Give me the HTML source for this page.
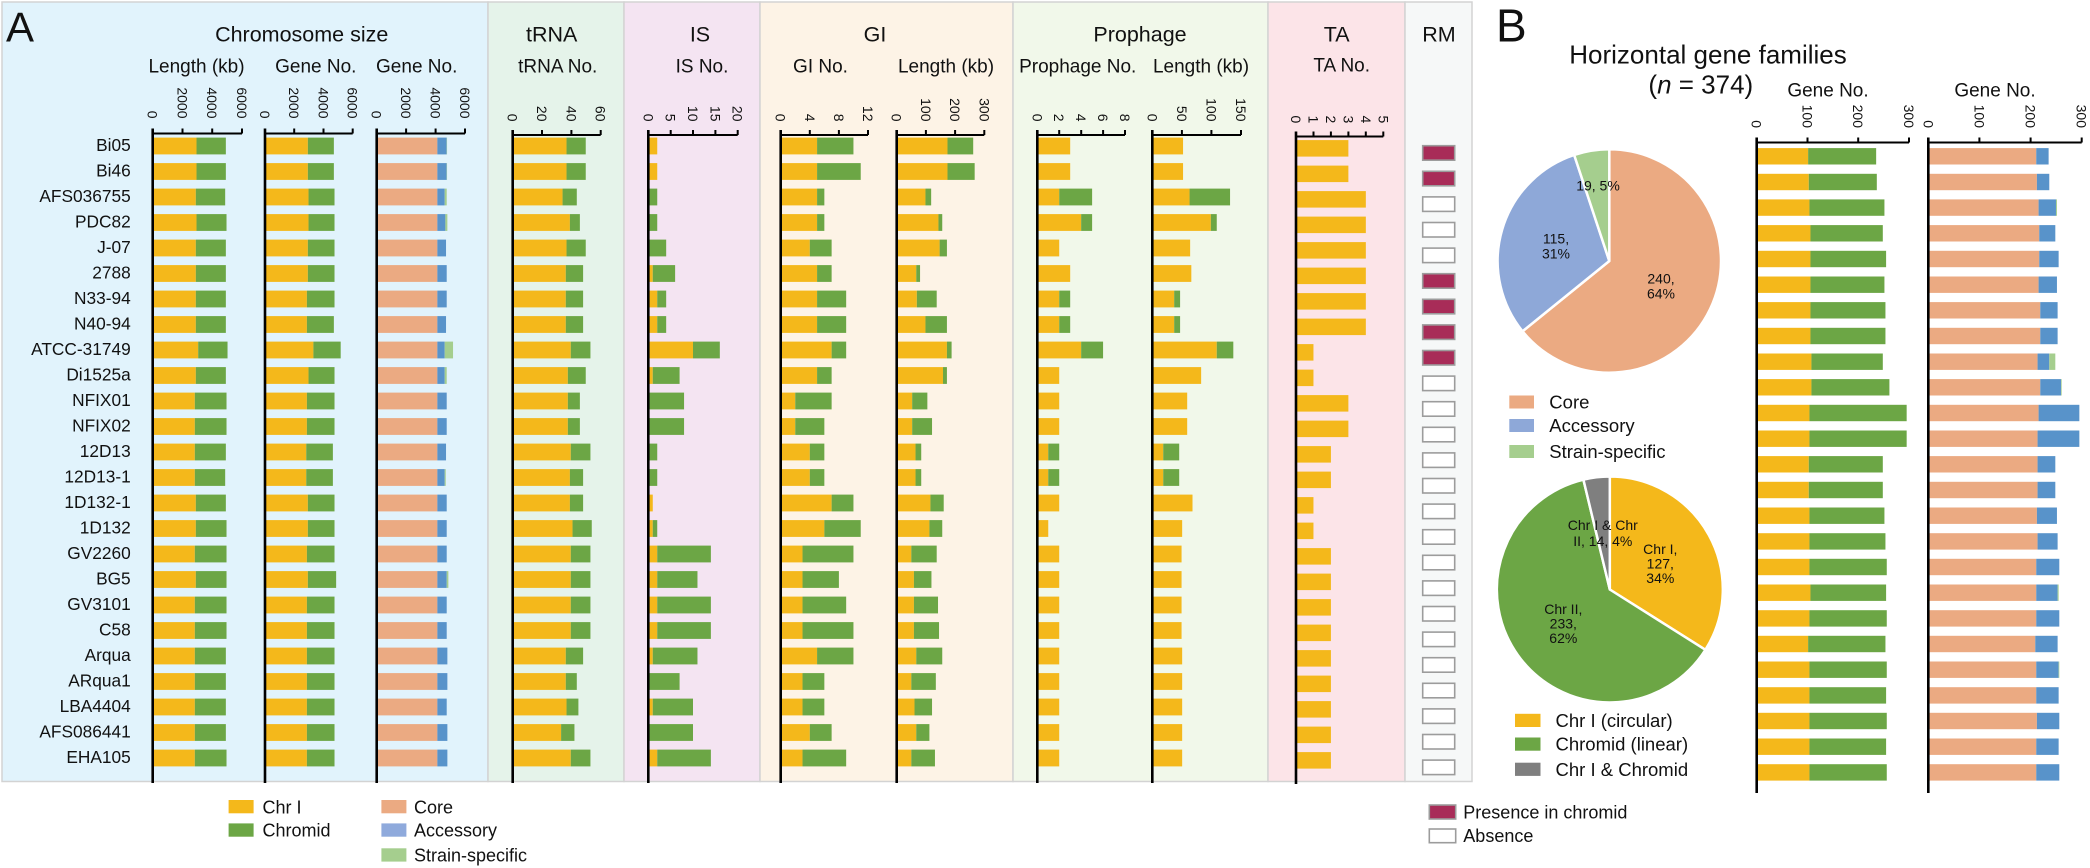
<!DOCTYPE html>
<html><head><meta charset="utf-8">
<style>
html,body{margin:0;padding:0;background:#fff;}
svg{display:block;font-family:"Liberation Sans",Arial,sans-serif;}
.y{fill:#F4B81B}.g{fill:#6CA645}.c{fill:#EBAA82}.a{fill:#5893CA}.s{fill:#A5CE8E}
.t{font-size:14px;fill:#111}
.lab{font-size:17.3px;fill:#111}
</style></head><body>
<svg width="2090" height="868" viewBox="0 0 2090 868" xmlns="http://www.w3.org/2000/svg">
<rect width="2090" height="868" fill="#fff"/>
<!-- panel backgrounds -->
<g stroke="#D3D3D3" stroke-width="1.5">
<rect x="2" y="2" width="486" height="779.5" fill="#E1F3FC"/>
<rect x="488" y="2" width="136" height="779.5" fill="#E5F3EA"/>
<rect x="624" y="2" width="136" height="779.5" fill="#F4E4F2"/>
<rect x="760" y="2" width="253" height="779.5" fill="#FDF3E6"/>
<rect x="1013" y="2" width="255" height="779.5" fill="#F1F8EA"/>
<rect x="1268" y="2" width="137" height="779.5" fill="#FCE4E8"/>
<rect x="1405" y="2" width="67" height="779.5" fill="#F6F8F8"/>
</g>
<!-- panel letters & titles -->
<text x="6" y="41.7" font-size="42" fill="#111">A</text>
<text x="1496" y="41.7" font-size="46" fill="#111">B</text>
<g font-size="21.5" fill="#111" text-anchor="middle">
<text x="301.7" y="41.7">Chromosome size</text>
<text x="551.7" y="41.7">tRNA</text>
<text x="700" y="41.7">IS</text>
<text x="875" y="41.7">GI</text>
<text x="1140" y="41.7">Prophage</text>
<text x="1336.7" y="41.7">TA</text>
<text x="1439" y="41.7">RM</text>
</g>
<g font-size="19" fill="#111" text-anchor="middle">
<text x="196.5" y="72.7">Length (kb)</text>
<text x="315.8" y="72.7">Gene No.</text>
<text x="416.7" y="72.7">Gene No.</text>
<text x="557.7" y="72.7">tRNA No.</text>
<text x="702" y="72.7">IS No.</text>
<text x="820.5" y="72.7">GI No.</text>
<text x="946" y="72.7">Length (kb)</text>
<text x="1077.7" y="72.7">Prophage No.</text>
<text x="1201" y="72.7">Length (kb)</text>
<text x="1341.7" y="71.7">TA No.</text>
<text x="1828" y="96.5">Gene No.</text>
<text x="1995" y="96.5">Gene No.</text>
</g>
<text x="1708" y="63.3" font-size="26" fill="#111" text-anchor="middle">Horizontal gene families</text>
<text x="1700.8" y="93.5" font-size="26" fill="#111" text-anchor="middle">(<tspan font-style="italic">n</tspan> = 374)</text>

<!-- tick labels -->
<g class="t" text-anchor="end" dominant-baseline="central">
<text transform="translate(152.7 118.5) rotate(90)">0</text>
<text transform="translate(182.5 118.5) rotate(90)">2000</text>
<text transform="translate(212.2 118.5) rotate(90)">4000</text>
<text transform="translate(242 118.5) rotate(90)">6000</text>
<text transform="translate(265 118.5) rotate(90)">0</text>
<text transform="translate(294.2 118.5) rotate(90)">2000</text>
<text transform="translate(323.5 118.5) rotate(90)">4000</text>
<text transform="translate(352.7 118.5) rotate(90)">6000</text>
<text transform="translate(376.7 118.5) rotate(90)">0</text>
<text transform="translate(406.1 118.5) rotate(90)">2000</text>
<text transform="translate(435.6 118.5) rotate(90)">4000</text>
<text transform="translate(465 118.5) rotate(90)">6000</text>
<text transform="translate(512.7 121.5) rotate(90)">0</text>
<text transform="translate(542 121.5) rotate(90)">20</text>
<text transform="translate(571.4 121.5) rotate(90)">40</text>
<text transform="translate(600.7 121.5) rotate(90)">60</text>
<text transform="translate(648.3 121.5) rotate(90)">0</text>
<text transform="translate(670.7 121.5) rotate(90)">5</text>
<text transform="translate(693 121.5) rotate(90)">10</text>
<text transform="translate(715.4 121.5) rotate(90)">15</text>
<text transform="translate(737.7 121.5) rotate(90)">20</text>
<text transform="translate(780.7 121.5) rotate(90)">0</text>
<text transform="translate(809.8 121.5) rotate(90)">4</text>
<text transform="translate(838.9 121.5) rotate(90)">8</text>
<text transform="translate(868 121.5) rotate(90)">12</text>
<text transform="translate(896.7 121.5) rotate(90)">0</text>
<text transform="translate(925.9 121.5) rotate(90)">100</text>
<text transform="translate(955.1 121.5) rotate(90)">200</text>
<text transform="translate(984.3 121.5) rotate(90)">300</text>
<text transform="translate(1037.3 121.5) rotate(90)">0</text>
<text transform="translate(1059.2 121.5) rotate(90)">2</text>
<text transform="translate(1081.2 121.5) rotate(90)">4</text>
<text transform="translate(1103.1 121.5) rotate(90)">6</text>
<text transform="translate(1125 121.5) rotate(90)">8</text>
<text transform="translate(1152.3 121.5) rotate(90)">0</text>
<text transform="translate(1181.9 121.5) rotate(90)">50</text>
<text transform="translate(1211.4 121.5) rotate(90)">100</text>
<text transform="translate(1241 121.5) rotate(90)">150</text>
<text transform="translate(1296 123.3) rotate(90)">0</text>
<text transform="translate(1313.5 123.3) rotate(90)">1</text>
<text transform="translate(1330.9 123.3) rotate(90)">2</text>
<text transform="translate(1348.4 123.3) rotate(90)">3</text>
<text transform="translate(1365.8 123.3) rotate(90)">4</text>
<text transform="translate(1383.3 123.3) rotate(90)">5</text>
<text transform="translate(1756.7 128) rotate(90)">0</text>
<text transform="translate(1807.5 128) rotate(90)">100</text>
<text transform="translate(1858.2 128) rotate(90)">200</text>
<text transform="translate(1909 128) rotate(90)">300</text>
<text transform="translate(1928.3 128) rotate(90)">0</text>
<text transform="translate(1979.4 128) rotate(90)">100</text>
<text transform="translate(2030.6 128) rotate(90)">200</text>
<text transform="translate(2081.7 128) rotate(90)">300</text>
</g>

<!-- row labels -->
<g class="lab" text-anchor="end">
<text x="130.7" y="151">Bi05</text>
<text x="130.7" y="176.5">Bi46</text>
<text x="130.7" y="202">AFS036755</text>
<text x="130.7" y="227.5">PDC82</text>
<text x="130.7" y="253">J-07</text>
<text x="130.7" y="278.5">2788</text>
<text x="130.7" y="304">N33-94</text>
<text x="130.7" y="329.5">N40-94</text>
<text x="130.7" y="355">ATCC-31749</text>
<text x="130.7" y="380.5">Di1525a</text>
<text x="130.7" y="406">NFIX01</text>
<text x="130.7" y="431.5">NFIX02</text>
<text x="130.7" y="457">12D13</text>
<text x="130.7" y="482.5">12D13-1</text>
<text x="130.7" y="508">1D132-1</text>
<text x="130.7" y="533.5">1D132</text>
<text x="130.7" y="559">GV2260</text>
<text x="130.7" y="584.5">BG5</text>
<text x="130.7" y="610">GV3101</text>
<text x="130.7" y="635.5">C58</text>
<text x="130.7" y="661">Arqua</text>
<text x="130.7" y="686.5">ARqua1</text>
<text x="130.7" y="712">LBA4404</text>
<text x="130.7" y="737.5">AFS086441</text>
<text x="130.7" y="763">EHA105</text>
</g>

<!-- C1 length -->
<g transform="translate(152.7 0) scale(0.014883 1)">
<rect class="y" y="137.6" width="2944" height="16.8"/><rect class="g" x="2944" y="137.6" width="1971" height="16.8"/>
<rect class="y" y="163.1" width="2944" height="16.8"/><rect class="g" x="2944" y="163.1" width="1971" height="16.8"/>
<rect class="y" y="188.6" width="2899" height="16.8"/><rect class="g" x="2899" y="188.6" width="1971" height="16.8"/>
<rect class="y" y="214.1" width="2944" height="16.8"/><rect class="g" x="2944" y="214.1" width="2016" height="16.8"/>
<rect class="y" y="239.6" width="2899" height="16.8"/><rect class="g" x="2899" y="239.6" width="2016" height="16.8"/>
<rect class="y" y="265.1" width="2899" height="16.8"/><rect class="g" x="2899" y="265.1" width="2016" height="16.8"/>
<rect class="y" y="290.6" width="2899" height="16.8"/><rect class="g" x="2899" y="290.6" width="2016" height="16.8"/>
<rect class="y" y="316.1" width="2899" height="16.8"/><rect class="g" x="2899" y="316.1" width="2016" height="16.8"/>
<rect class="y" y="341.6" width="3058" height="16.8"/><rect class="g" x="3058" y="341.6" width="1970" height="16.8"/>
<rect class="y" y="367.1" width="2899" height="16.8"/><rect class="g" x="2899" y="367.1" width="2016" height="16.8"/>
<rect class="y" y="392.6" width="2831" height="16.8"/><rect class="g" x="2831" y="392.6" width="2129" height="16.8"/>
<rect class="y" y="418.1" width="2831" height="16.8"/><rect class="g" x="2831" y="418.1" width="2129" height="16.8"/>
<rect class="y" y="443.6" width="2831" height="16.8"/><rect class="g" x="2831" y="443.6" width="2084" height="16.8"/>
<rect class="y" y="469.1" width="2831" height="16.8"/><rect class="g" x="2831" y="469.1" width="2039" height="16.8"/>
<rect class="y" y="494.6" width="2899" height="16.8"/><rect class="g" x="2899" y="494.6" width="2016" height="16.8"/>
<rect class="y" y="520.1" width="2899" height="16.8"/><rect class="g" x="2899" y="520.1" width="2061" height="16.8"/>
<rect class="y" y="545.6" width="2831" height="16.8"/><rect class="g" x="2831" y="545.6" width="2129" height="16.8"/>
<rect class="y" y="571.1" width="2899" height="16.8"/><rect class="g" x="2899" y="571.1" width="2061" height="16.8"/>
<rect class="y" y="596.6" width="2831" height="16.8"/><rect class="g" x="2831" y="596.6" width="2129" height="16.8"/>
<rect class="y" y="622.1" width="2831" height="16.8"/><rect class="g" x="2831" y="622.1" width="2129" height="16.8"/>
<rect class="y" y="647.6" width="2831" height="16.8"/><rect class="g" x="2831" y="647.6" width="2084" height="16.8"/>
<rect class="y" y="673.1" width="2831" height="16.8"/><rect class="g" x="2831" y="673.1" width="2084" height="16.8"/>
<rect class="y" y="698.6" width="2831" height="16.8"/><rect class="g" x="2831" y="698.6" width="2084" height="16.8"/>
<rect class="y" y="724.1" width="2831" height="16.8"/><rect class="g" x="2831" y="724.1" width="2084" height="16.8"/>
<rect class="y" y="749.6" width="2831" height="16.8"/><rect class="g" x="2831" y="749.6" width="2129" height="16.8"/>
</g>

<!-- C2 gene no -->
<g transform="translate(265 0) scale(0.014617 1)">
<rect class="y" y="137.6" width="2933" height="16.8"/><rect class="g" x="2933" y="137.6" width="1778" height="16.8"/>
<rect class="y" y="163.1" width="2933" height="16.8"/><rect class="g" x="2933" y="163.1" width="1778" height="16.8"/>
<rect class="y" y="188.6" width="2978" height="16.8"/><rect class="g" x="2978" y="188.6" width="1778" height="16.8"/>
<rect class="y" y="214.1" width="2978" height="16.8"/><rect class="g" x="2978" y="214.1" width="1778" height="16.8"/>
<rect class="y" y="239.6" width="2933" height="16.8"/><rect class="g" x="2933" y="239.6" width="1823" height="16.8"/>
<rect class="y" y="265.1" width="2933" height="16.8"/><rect class="g" x="2933" y="265.1" width="1823" height="16.8"/>
<rect class="y" y="290.6" width="2867" height="16.8"/><rect class="g" x="2867" y="290.6" width="1889" height="16.8"/>
<rect class="y" y="316.1" width="2867" height="16.8"/><rect class="g" x="2867" y="316.1" width="1844" height="16.8"/>
<rect class="y" y="341.6" width="3311" height="16.8"/><rect class="g" x="3311" y="341.6" width="1867" height="16.8"/>
<rect class="y" y="367.1" width="2978" height="16.8"/><rect class="g" x="2978" y="367.1" width="1778" height="16.8"/>
<rect class="y" y="392.6" width="2867" height="16.8"/><rect class="g" x="2867" y="392.6" width="1889" height="16.8"/>
<rect class="y" y="418.1" width="2867" height="16.8"/><rect class="g" x="2867" y="418.1" width="1889" height="16.8"/>
<rect class="y" y="443.6" width="2822" height="16.8"/><rect class="g" x="2822" y="443.6" width="1822" height="16.8"/>
<rect class="y" y="469.1" width="2822" height="16.8"/><rect class="g" x="2822" y="469.1" width="1822" height="16.8"/>
<rect class="y" y="494.6" width="2933" height="16.8"/><rect class="g" x="2933" y="494.6" width="1823" height="16.8"/>
<rect class="y" y="520.1" width="2933" height="16.8"/><rect class="g" x="2933" y="520.1" width="1823" height="16.8"/>
<rect class="y" y="545.6" width="2867" height="16.8"/><rect class="g" x="2867" y="545.6" width="1889" height="16.8"/>
<rect class="y" y="571.1" width="2933" height="16.8"/><rect class="g" x="2933" y="571.1" width="1934" height="16.8"/>
<rect class="y" y="596.6" width="2867" height="16.8"/><rect class="g" x="2867" y="596.6" width="1889" height="16.8"/>
<rect class="y" y="622.1" width="2867" height="16.8"/><rect class="g" x="2867" y="622.1" width="1889" height="16.8"/>
<rect class="y" y="647.6" width="2867" height="16.8"/><rect class="g" x="2867" y="647.6" width="1889" height="16.8"/>
<rect class="y" y="673.1" width="2867" height="16.8"/><rect class="g" x="2867" y="673.1" width="1889" height="16.8"/>
<rect class="y" y="698.6" width="2867" height="16.8"/><rect class="g" x="2867" y="698.6" width="1889" height="16.8"/>
<rect class="y" y="724.1" width="2867" height="16.8"/><rect class="g" x="2867" y="724.1" width="1889" height="16.8"/>
<rect class="y" y="749.6" width="2867" height="16.8"/><rect class="g" x="2867" y="749.6" width="1889" height="16.8"/>
</g>

<!-- C3 core/acc/ss -->
<g transform="translate(376.7 0) scale(0.014717 1)">
<rect class="c" y="137.6" width="4122" height="16.8"/><rect class="a" x="4122" y="137.6" width="635" height="16.8"/><rect class="s" x="4757" y="137.6" width="23" height="16.8"/>
<rect class="c" y="163.1" width="4122" height="16.8"/><rect class="a" x="4122" y="163.1" width="635" height="16.8"/><rect class="s" x="4757" y="163.1" width="23" height="16.8"/>
<rect class="c" y="188.6" width="4122" height="16.8"/><rect class="a" x="4122" y="188.6" width="499" height="16.8"/><rect class="s" x="4621" y="188.6" width="136" height="16.8"/>
<rect class="c" y="214.1" width="4122" height="16.8"/><rect class="a" x="4122" y="214.1" width="544" height="16.8"/><rect class="s" x="4666" y="214.1" width="136" height="16.8"/>
<rect class="c" y="239.6" width="4122" height="16.8"/><rect class="a" x="4122" y="239.6" width="589" height="16.8"/>
<rect class="c" y="265.1" width="4122" height="16.8"/><rect class="a" x="4122" y="265.1" width="635" height="16.8"/>
<rect class="c" y="290.6" width="4122" height="16.8"/><rect class="a" x="4122" y="290.6" width="635" height="16.8"/>
<rect class="c" y="316.1" width="4122" height="16.8"/><rect class="a" x="4122" y="316.1" width="589" height="16.8"/>
<rect class="c" y="341.6" width="4122" height="16.8"/><rect class="a" x="4122" y="341.6" width="499" height="16.8"/><rect class="s" x="4621" y="341.6" width="566" height="16.8"/>
<rect class="c" y="367.1" width="4122" height="16.8"/><rect class="a" x="4122" y="367.1" width="499" height="16.8"/><rect class="s" x="4621" y="367.1" width="136" height="16.8"/>
<rect class="c" y="392.6" width="4122" height="16.8"/><rect class="a" x="4122" y="392.6" width="635" height="16.8"/>
<rect class="c" y="418.1" width="4122" height="16.8"/><rect class="a" x="4122" y="418.1" width="635" height="16.8"/>
<rect class="c" y="443.6" width="4122" height="16.8"/><rect class="a" x="4122" y="443.6" width="589" height="16.8"/>
<rect class="c" y="469.1" width="4122" height="16.8"/><rect class="a" x="4122" y="469.1" width="499" height="16.8"/><rect class="s" x="4621" y="469.1" width="69" height="16.8"/>
<rect class="c" y="494.6" width="4122" height="16.8"/><rect class="a" x="4122" y="494.6" width="635" height="16.8"/>
<rect class="c" y="520.1" width="4122" height="16.8"/><rect class="a" x="4122" y="520.1" width="635" height="16.8"/>
<rect class="c" y="545.6" width="4122" height="16.8"/><rect class="a" x="4122" y="545.6" width="635" height="16.8"/>
<rect class="c" y="571.1" width="4122" height="16.8"/><rect class="a" x="4122" y="571.1" width="635" height="16.8"/><rect class="s" x="4757" y="571.1" width="113" height="16.8"/>
<rect class="c" y="596.6" width="4122" height="16.8"/><rect class="a" x="4122" y="596.6" width="635" height="16.8"/>
<rect class="c" y="622.1" width="4122" height="16.8"/><rect class="a" x="4122" y="622.1" width="635" height="16.8"/>
<rect class="c" y="647.6" width="4122" height="16.8"/><rect class="a" x="4122" y="647.6" width="680" height="16.8"/>
<rect class="c" y="673.1" width="4122" height="16.8"/><rect class="a" x="4122" y="673.1" width="680" height="16.8"/>
<rect class="c" y="698.6" width="4122" height="16.8"/><rect class="a" x="4122" y="698.6" width="635" height="16.8"/>
<rect class="c" y="724.1" width="4122" height="16.8"/><rect class="a" x="4122" y="724.1" width="680" height="16.8"/>
<rect class="c" y="749.6" width="4122" height="16.8"/><rect class="a" x="4122" y="749.6" width="680" height="16.8"/>
</g>

<!-- tRNA -->
<g transform="translate(512.7 0) scale(1.4667 1)">
<rect class="y" y="137.6" width="36.7" height="16.8"/><rect class="g" x="36.7" y="137.6" width="13.1" height="16.8"/>
<rect class="y" y="163.1" width="36.7" height="16.8"/><rect class="g" x="36.7" y="163.1" width="13.1" height="16.8"/>
<rect class="y" y="188.6" width="34" height="16.8"/><rect class="g" x="34" y="188.6" width="9.7" height="16.8"/>
<rect class="y" y="214.1" width="39" height="16.8"/><rect class="g" x="39" y="214.1" width="6.8" height="16.8"/>
<rect class="y" y="239.6" width="36.7" height="16.8"/><rect class="g" x="36.7" y="239.6" width="13.1" height="16.8"/>
<rect class="y" y="265.1" width="36.2" height="16.8"/><rect class="g" x="36.2" y="265.1" width="11.8" height="16.8"/>
<rect class="y" y="290.6" width="36.2" height="16.8"/><rect class="g" x="36.2" y="290.6" width="11.8" height="16.8"/>
<rect class="y" y="316.1" width="36.2" height="16.8"/><rect class="g" x="36.2" y="316.1" width="11.8" height="16.8"/>
<rect class="y" y="341.6" width="39.6" height="16.8"/><rect class="g" x="39.6" y="341.6" width="13.4" height="16.8"/>
<rect class="y" y="367.1" width="37.6" height="16.8"/><rect class="g" x="37.6" y="367.1" width="12.2" height="16.8"/>
<rect class="y" y="392.6" width="37.6" height="16.8"/><rect class="g" x="37.6" y="392.6" width="8.2" height="16.8"/>
<rect class="y" y="418.1" width="37.6" height="16.8"/><rect class="g" x="37.6" y="418.1" width="8.2" height="16.8"/>
<rect class="y" y="443.6" width="39.6" height="16.8"/><rect class="g" x="39.6" y="443.6" width="13.4" height="16.8"/>
<rect class="y" y="469.1" width="39" height="16.8"/><rect class="g" x="39" y="469.1" width="9" height="16.8"/>
<rect class="y" y="494.6" width="39" height="16.8"/><rect class="g" x="39" y="494.6" width="9" height="16.8"/>
<rect class="y" y="520.1" width="40.8" height="16.8"/><rect class="g" x="40.8" y="520.1" width="13.1" height="16.8"/>
<rect class="y" y="545.6" width="39.6" height="16.8"/><rect class="g" x="39.6" y="545.6" width="13.4" height="16.8"/>
<rect class="y" y="571.1" width="39.6" height="16.8"/><rect class="g" x="39.6" y="571.1" width="13.4" height="16.8"/>
<rect class="y" y="596.6" width="39.6" height="16.8"/><rect class="g" x="39.6" y="596.6" width="13.4" height="16.8"/>
<rect class="y" y="622.1" width="39.6" height="16.8"/><rect class="g" x="39.6" y="622.1" width="13.4" height="16.8"/>
<rect class="y" y="647.6" width="36.2" height="16.8"/><rect class="g" x="36.2" y="647.6" width="11.8" height="16.8"/>
<rect class="y" y="673.1" width="36.2" height="16.8"/><rect class="g" x="36.2" y="673.1" width="7.5" height="16.8"/>
<rect class="y" y="698.6" width="36.7" height="16.8"/><rect class="g" x="36.7" y="698.6" width="8.1" height="16.8"/>
<rect class="y" y="724.1" width="33" height="16.8"/><rect class="g" x="33" y="724.1" width="9.1" height="16.8"/>
<rect class="y" y="749.6" width="39.6" height="16.8"/><rect class="g" x="39.6" y="749.6" width="13.4" height="16.8"/>
</g>

<!-- IS -->
<g transform="translate(648.3 0) scale(4.47 1)">
<rect class="y" y="137.6" width="2" height="16.8"/>
<rect class="y" y="163.1" width="2" height="16.8"/>
<rect class="g" y="188.6" width="2" height="16.8"/>
<rect class="g" y="214.1" width="2" height="16.8"/>
<rect class="g" y="239.6" width="4" height="16.8"/>
<rect class="y" y="265.1" width="1" height="16.8"/><rect class="g" x="1" y="265.1" width="5" height="16.8"/>
<rect class="y" y="290.6" width="2" height="16.8"/><rect class="g" x="2" y="290.6" width="2" height="16.8"/>
<rect class="y" y="316.1" width="2" height="16.8"/><rect class="g" x="2" y="316.1" width="2" height="16.8"/>
<rect class="y" y="341.6" width="10" height="16.8"/><rect class="g" x="10" y="341.6" width="6" height="16.8"/>
<rect class="y" y="367.1" width="1" height="16.8"/><rect class="g" x="1" y="367.1" width="6" height="16.8"/>
<rect class="g" y="392.6" width="8" height="16.8"/>
<rect class="g" y="418.1" width="8" height="16.8"/>
<rect class="g" y="443.6" width="2" height="16.8"/>
<rect class="g" y="469.1" width="2" height="16.8"/>
<rect class="y" y="494.6" width="1" height="16.8"/>
<rect class="y" y="520.1" width="1" height="16.8"/><rect class="g" x="1" y="520.1" width="1" height="16.8"/>
<rect class="y" y="545.6" width="2" height="16.8"/><rect class="g" x="2" y="545.6" width="12" height="16.8"/>
<rect class="y" y="571.1" width="2" height="16.8"/><rect class="g" x="2" y="571.1" width="9" height="16.8"/>
<rect class="y" y="596.6" width="2" height="16.8"/><rect class="g" x="2" y="596.6" width="12" height="16.8"/>
<rect class="y" y="622.1" width="2" height="16.8"/><rect class="g" x="2" y="622.1" width="12" height="16.8"/>
<rect class="y" y="647.6" width="1" height="16.8"/><rect class="g" x="1" y="647.6" width="10" height="16.8"/>
<rect class="g" y="673.1" width="7" height="16.8"/>
<rect class="y" y="698.6" width="1" height="16.8"/><rect class="g" x="1" y="698.6" width="9" height="16.8"/>
<rect class="g" y="724.1" width="10" height="16.8"/>
<rect class="y" y="749.6" width="2" height="16.8"/><rect class="g" x="2" y="749.6" width="12" height="16.8"/>
</g>

<!-- GI No -->
<g transform="translate(780.7 0) scale(7.275 1)">
<rect class="y" y="137.6" width="5" height="16.8"/><rect class="g" x="5" y="137.6" width="5" height="16.8"/>
<rect class="y" y="163.1" width="5" height="16.8"/><rect class="g" x="5" y="163.1" width="6" height="16.8"/>
<rect class="y" y="188.6" width="5" height="16.8"/><rect class="g" x="5" y="188.6" width="1" height="16.8"/>
<rect class="y" y="214.1" width="5" height="16.8"/><rect class="g" x="5" y="214.1" width="1" height="16.8"/>
<rect class="y" y="239.6" width="4" height="16.8"/><rect class="g" x="4" y="239.6" width="3" height="16.8"/>
<rect class="y" y="265.1" width="5" height="16.8"/><rect class="g" x="5" y="265.1" width="2" height="16.8"/>
<rect class="y" y="290.6" width="5" height="16.8"/><rect class="g" x="5" y="290.6" width="4" height="16.8"/>
<rect class="y" y="316.1" width="5" height="16.8"/><rect class="g" x="5" y="316.1" width="4" height="16.8"/>
<rect class="y" y="341.6" width="7" height="16.8"/><rect class="g" x="7" y="341.6" width="2" height="16.8"/>
<rect class="y" y="367.1" width="5" height="16.8"/><rect class="g" x="5" y="367.1" width="2" height="16.8"/>
<rect class="y" y="392.6" width="2" height="16.8"/><rect class="g" x="2" y="392.6" width="5" height="16.8"/>
<rect class="y" y="418.1" width="2" height="16.8"/><rect class="g" x="2" y="418.1" width="4" height="16.8"/>
<rect class="y" y="443.6" width="4" height="16.8"/><rect class="g" x="4" y="443.6" width="2" height="16.8"/>
<rect class="y" y="469.1" width="4" height="16.8"/><rect class="g" x="4" y="469.1" width="2" height="16.8"/>
<rect class="y" y="494.6" width="7" height="16.8"/><rect class="g" x="7" y="494.6" width="3" height="16.8"/>
<rect class="y" y="520.1" width="6" height="16.8"/><rect class="g" x="6" y="520.1" width="5" height="16.8"/>
<rect class="y" y="545.6" width="3" height="16.8"/><rect class="g" x="3" y="545.6" width="7" height="16.8"/>
<rect class="y" y="571.1" width="3" height="16.8"/><rect class="g" x="3" y="571.1" width="5" height="16.8"/>
<rect class="y" y="596.6" width="3" height="16.8"/><rect class="g" x="3" y="596.6" width="6" height="16.8"/>
<rect class="y" y="622.1" width="3" height="16.8"/><rect class="g" x="3" y="622.1" width="7" height="16.8"/>
<rect class="y" y="647.6" width="5" height="16.8"/><rect class="g" x="5" y="647.6" width="5" height="16.8"/>
<rect class="y" y="673.1" width="3" height="16.8"/><rect class="g" x="3" y="673.1" width="3" height="16.8"/>
<rect class="y" y="698.6" width="3" height="16.8"/><rect class="g" x="3" y="698.6" width="3" height="16.8"/>
<rect class="y" y="724.1" width="4" height="16.8"/><rect class="g" x="4" y="724.1" width="3" height="16.8"/>
<rect class="y" y="749.6" width="3" height="16.8"/><rect class="g" x="3" y="749.6" width="6" height="16.8"/>
</g>

<!-- GI Length -->
<g transform="translate(896.7 0) scale(0.292 1)">
<rect class="y" y="137.6" width="174" height="16.8"/><rect class="g" x="174" y="137.6" width="88" height="16.8"/>
<rect class="y" y="163.1" width="174" height="16.8"/><rect class="g" x="174" y="163.1" width="93" height="16.8"/>
<rect class="y" y="188.6" width="98.5" height="16.8"/><rect class="g" x="98.5" y="188.6" width="19.5" height="16.8"/>
<rect class="y" y="214.1" width="143" height="16.8"/><rect class="g" x="143" y="214.1" width="13" height="16.8"/>
<rect class="y" y="239.6" width="147" height="16.8"/><rect class="g" x="147" y="239.6" width="25" height="16.8"/>
<rect class="y" y="265.1" width="67" height="16.8"/><rect class="g" x="67" y="265.1" width="13" height="16.8"/>
<rect class="y" y="290.6" width="69" height="16.8"/><rect class="g" x="69" y="290.6" width="68" height="16.8"/>
<rect class="y" y="316.1" width="98.5" height="16.8"/><rect class="g" x="98.5" y="316.1" width="73.5" height="16.8"/>
<rect class="y" y="341.6" width="172" height="16.8"/><rect class="g" x="172" y="341.6" width="16" height="16.8"/>
<rect class="y" y="367.1" width="158.5" height="16.8"/><rect class="g" x="158.5" y="367.1" width="13.5" height="16.8"/>
<rect class="y" y="392.6" width="53" height="16.8"/><rect class="g" x="53" y="392.6" width="52" height="16.8"/>
<rect class="y" y="418.1" width="53" height="16.8"/><rect class="g" x="53" y="418.1" width="68" height="16.8"/>
<rect class="y" y="443.6" width="64.5" height="16.8"/><rect class="g" x="64.5" y="443.6" width="19.5" height="16.8"/>
<rect class="y" y="469.1" width="64.5" height="16.8"/><rect class="g" x="64.5" y="469.1" width="19.5" height="16.8"/>
<rect class="y" y="494.6" width="115.5" height="16.8"/><rect class="g" x="115.5" y="494.6" width="45.5" height="16.8"/>
<rect class="y" y="520.1" width="112" height="16.8"/><rect class="g" x="112" y="520.1" width="44" height="16.8"/>
<rect class="y" y="545.6" width="50" height="16.8"/><rect class="g" x="50" y="545.6" width="87" height="16.8"/>
<rect class="y" y="571.1" width="59" height="16.8"/><rect class="g" x="59" y="571.1" width="60" height="16.8"/>
<rect class="y" y="596.6" width="59" height="16.8"/><rect class="g" x="59" y="596.6" width="82.5" height="16.8"/>
<rect class="y" y="622.1" width="59" height="16.8"/><rect class="g" x="59" y="622.1" width="86" height="16.8"/>
<rect class="y" y="647.6" width="67" height="16.8"/><rect class="g" x="67" y="647.6" width="89" height="16.8"/>
<rect class="y" y="673.1" width="50" height="16.8"/><rect class="g" x="50" y="673.1" width="84" height="16.8"/>
<rect class="y" y="698.6" width="61" height="16.8"/><rect class="g" x="61" y="698.6" width="60" height="16.8"/>
<rect class="y" y="724.1" width="67" height="16.8"/><rect class="g" x="67" y="724.1" width="45" height="16.8"/>
<rect class="y" y="749.6" width="50" height="16.8"/><rect class="g" x="50" y="749.6" width="81" height="16.8"/>
</g>

<!-- Prophage No -->
<g transform="translate(1037.3 0) scale(10.9625 1)">
<rect class="y" y="137.6" width="3" height="16.8"/>
<rect class="y" y="163.1" width="3" height="16.8"/>
<rect class="y" y="188.6" width="2" height="16.8"/><rect class="g" x="2" y="188.6" width="3" height="16.8"/>
<rect class="y" y="214.1" width="4" height="16.8"/><rect class="g" x="4" y="214.1" width="1" height="16.8"/>
<rect class="y" y="239.6" width="2" height="16.8"/>
<rect class="y" y="265.1" width="3" height="16.8"/>
<rect class="y" y="290.6" width="2" height="16.8"/><rect class="g" x="2" y="290.6" width="1" height="16.8"/>
<rect class="y" y="316.1" width="2" height="16.8"/><rect class="g" x="2" y="316.1" width="1" height="16.8"/>
<rect class="y" y="341.6" width="4" height="16.8"/><rect class="g" x="4" y="341.6" width="2" height="16.8"/>
<rect class="y" y="367.1" width="2" height="16.8"/>
<rect class="y" y="392.6" width="2" height="16.8"/>
<rect class="y" y="418.1" width="2" height="16.8"/>
<rect class="y" y="443.6" width="1" height="16.8"/><rect class="g" x="1" y="443.6" width="1" height="16.8"/>
<rect class="y" y="469.1" width="1" height="16.8"/><rect class="g" x="1" y="469.1" width="1" height="16.8"/>
<rect class="y" y="494.6" width="2" height="16.8"/>
<rect class="y" y="520.1" width="1" height="16.8"/>
<rect class="y" y="545.6" width="2" height="16.8"/>
<rect class="y" y="571.1" width="2" height="16.8"/>
<rect class="y" y="596.6" width="2" height="16.8"/>
<rect class="y" y="622.1" width="2" height="16.8"/>
<rect class="y" y="647.6" width="2" height="16.8"/>
<rect class="y" y="673.1" width="2" height="16.8"/>
<rect class="y" y="698.6" width="2" height="16.8"/>
<rect class="y" y="724.1" width="2" height="16.8"/>
<rect class="y" y="749.6" width="2" height="16.8"/>
</g>

<!-- Prophage Length -->
<g transform="translate(1152.3 0) scale(0.5913 1)">
<rect class="y" y="137.6" width="52" height="16.8"/>
<rect class="y" y="163.1" width="52" height="16.8"/>
<rect class="y" y="188.6" width="63" height="16.8"/><rect class="g" x="63" y="188.6" width="68.5" height="16.8"/>
<rect class="y" y="214.1" width="99" height="16.8"/><rect class="g" x="99" y="214.1" width="10" height="16.8"/>
<rect class="y" y="239.6" width="64" height="16.8"/>
<rect class="y" y="265.1" width="66" height="16.8"/>
<rect class="y" y="290.6" width="37" height="16.8"/><rect class="g" x="37" y="290.6" width="10" height="16.8"/>
<rect class="y" y="316.1" width="37" height="16.8"/><rect class="g" x="37" y="316.1" width="10" height="16.8"/>
<rect class="y" y="341.6" width="109" height="16.8"/><rect class="g" x="109" y="341.6" width="28" height="16.8"/>
<rect class="y" y="367.1" width="82.6" height="16.8"/>
<rect class="y" y="392.6" width="59" height="16.8"/>
<rect class="y" y="418.1" width="59" height="16.8"/>
<rect class="y" y="443.6" width="18.5" height="16.8"/><rect class="g" x="18.5" y="443.6" width="27" height="16.8"/>
<rect class="y" y="469.1" width="18.5" height="16.8"/><rect class="g" x="18.5" y="469.1" width="27" height="16.8"/>
<rect class="y" y="494.6" width="68" height="16.8"/>
<rect class="y" y="520.1" width="50.5" height="16.8"/>
<rect class="y" y="545.6" width="49.5" height="16.8"/>
<rect class="y" y="571.1" width="49.5" height="16.8"/>
<rect class="y" y="596.6" width="49.5" height="16.8"/>
<rect class="y" y="622.1" width="49.5" height="16.8"/>
<rect class="y" y="647.6" width="50.5" height="16.8"/>
<rect class="y" y="673.1" width="50.5" height="16.8"/>
<rect class="y" y="698.6" width="50.5" height="16.8"/>
<rect class="y" y="724.1" width="50.5" height="16.8"/>
<rect class="y" y="749.6" width="50.5" height="16.8"/>
</g>

<!-- TA -->
<g transform="translate(1296 0) scale(17.46 1)">
<rect class="y" y="140.1" width="3" height="16.5"/>
<rect class="y" y="165.6" width="3" height="16.5"/>
<rect class="y" y="191.1" width="4" height="16.5"/>
<rect class="y" y="216.6" width="4" height="16.5"/>
<rect class="y" y="242.1" width="4" height="16.5"/>
<rect class="y" y="267.6" width="4" height="16.5"/>
<rect class="y" y="293.1" width="4" height="16.5"/>
<rect class="y" y="318.6" width="4" height="16.5"/>
<rect class="y" y="344.1" width="1" height="16.5"/>
<rect class="y" y="369.6" width="1" height="16.5"/>
<rect class="y" y="395.1" width="3" height="16.5"/>
<rect class="y" y="420.6" width="3" height="16.5"/>
<rect class="y" y="446.1" width="2" height="16.5"/>
<rect class="y" y="471.6" width="2" height="16.5"/>
<rect class="y" y="497.1" width="1" height="16.5"/>
<rect class="y" y="522.6" width="1" height="16.5"/>
<rect class="y" y="548.1" width="2" height="16.5"/>
<rect class="y" y="573.6" width="2" height="16.5"/>
<rect class="y" y="599.1" width="2" height="16.5"/>
<rect class="y" y="624.6" width="2" height="16.5"/>
<rect class="y" y="650.1" width="2" height="16.5"/>
<rect class="y" y="675.6" width="2" height="16.5"/>
<rect class="y" y="701.1" width="2" height="16.5"/>
<rect class="y" y="726.6" width="2" height="16.5"/>
<rect class="y" y="752.1" width="2" height="16.5"/>
</g>

<!-- RM boxes -->
<g stroke="#9C9C9C" stroke-width="1.6" fill="#fff">
<rect x="1422.7" y="145.7" width="32" height="14.5" fill="#A82C58"/>
<rect x="1422.7" y="171.3" width="32" height="14.5" fill="#A82C58"/>
<rect x="1422.7" y="196.9" width="32" height="14.5"/>
<rect x="1422.7" y="222.5" width="32" height="14.5"/>
<rect x="1422.7" y="248.1" width="32" height="14.5"/>
<rect x="1422.7" y="273.7" width="32" height="14.5" fill="#A82C58"/>
<rect x="1422.7" y="299.3" width="32" height="14.5" fill="#A82C58"/>
<rect x="1422.7" y="324.9" width="32" height="14.5" fill="#A82C58"/>
<rect x="1422.7" y="350.5" width="32" height="14.5" fill="#A82C58"/>
<rect x="1422.7" y="376.1" width="32" height="14.5"/>
<rect x="1422.7" y="401.7" width="32" height="14.5"/>
<rect x="1422.7" y="427.3" width="32" height="14.5"/>
<rect x="1422.7" y="452.9" width="32" height="14.5"/>
<rect x="1422.7" y="478.5" width="32" height="14.5"/>
<rect x="1422.7" y="504.1" width="32" height="14.5"/>
<rect x="1422.7" y="529.7" width="32" height="14.5"/>
<rect x="1422.7" y="555.3" width="32" height="14.5"/>
<rect x="1422.7" y="580.9" width="32" height="14.5"/>
<rect x="1422.7" y="606.5" width="32" height="14.5"/>
<rect x="1422.7" y="632.1" width="32" height="14.5"/>
<rect x="1422.7" y="657.7" width="32" height="14.5"/>
<rect x="1422.7" y="683.3" width="32" height="14.5"/>
<rect x="1422.7" y="708.9" width="32" height="14.5"/>
<rect x="1422.7" y="734.5" width="32" height="14.5"/>
<rect x="1422.7" y="760.1" width="32" height="14.5"/>
</g>

<!-- B1 -->
<g transform="translate(1756.7 0) scale(0.50767 1)">
<rect class="y" y="148.1" width="101.3" height="16.4"/><rect class="g" x="101.3" y="148.1" width="134" height="16.4"/>
<rect class="y" y="173.8" width="102.6" height="16.4"/><rect class="g" x="102.6" y="173.8" width="134" height="16.4"/>
<rect class="y" y="199.4" width="103.9" height="16.4"/><rect class="g" x="103.9" y="199.4" width="147.7" height="16.4"/>
<rect class="y" y="225.1" width="105.9" height="16.4"/><rect class="g" x="105.9" y="225.1" width="142.5" height="16.4"/>
<rect class="y" y="250.8" width="105.9" height="16.4"/><rect class="g" x="105.9" y="250.8" width="149" height="16.4"/>
<rect class="y" y="276.5" width="105.9" height="16.4"/><rect class="g" x="105.9" y="276.5" width="145.7" height="16.4"/>
<rect class="y" y="302.1" width="105.9" height="16.4"/><rect class="g" x="105.9" y="302.1" width="147.7" height="16.4"/>
<rect class="y" y="327.8" width="105.9" height="16.4"/><rect class="g" x="105.9" y="327.8" width="147.7" height="16.4"/>
<rect class="y" y="353.5" width="107.8" height="16.4"/><rect class="g" x="107.8" y="353.5" width="140.6" height="16.4"/>
<rect class="y" y="379.1" width="107.8" height="16.4"/><rect class="g" x="107.8" y="379.1" width="153.6" height="16.4"/>
<rect class="y" y="404.8" width="103.9" height="16.4"/><rect class="g" x="103.9" y="404.8" width="191.5" height="16.4"/>
<rect class="y" y="430.5" width="103.9" height="16.4"/><rect class="g" x="103.9" y="430.5" width="191.5" height="16.4"/>
<rect class="y" y="456.1" width="102.6" height="16.4"/><rect class="g" x="102.6" y="456.1" width="145.8" height="16.4"/>
<rect class="y" y="481.8" width="102.6" height="16.4"/><rect class="g" x="102.6" y="481.8" width="145.8" height="16.4"/>
<rect class="y" y="507.5" width="103.9" height="16.4"/><rect class="g" x="103.9" y="507.5" width="147.7" height="16.4"/>
<rect class="y" y="533.2" width="103.9" height="16.4"/><rect class="g" x="103.9" y="533.2" width="149.7" height="16.4"/>
<rect class="y" y="558.8" width="103.9" height="16.4"/><rect class="g" x="103.9" y="558.8" width="152.3" height="16.4"/>
<rect class="y" y="584.5" width="105.9" height="16.4"/><rect class="g" x="105.9" y="584.5" width="149" height="16.4"/>
<rect class="y" y="610.2" width="103.9" height="16.4"/><rect class="g" x="103.9" y="610.2" width="152.3" height="16.4"/>
<rect class="y" y="635.8" width="101.3" height="16.4"/><rect class="g" x="101.3" y="635.8" width="152.3" height="16.4"/>
<rect class="y" y="661.5" width="103.9" height="16.4"/><rect class="g" x="103.9" y="661.5" width="152.3" height="16.4"/>
<rect class="y" y="687.2" width="103.9" height="16.4"/><rect class="g" x="103.9" y="687.2" width="151" height="16.4"/>
<rect class="y" y="712.8" width="103.9" height="16.4"/><rect class="g" x="103.9" y="712.8" width="152.3" height="16.4"/>
<rect class="y" y="738.5" width="103.9" height="16.4"/><rect class="g" x="103.9" y="738.5" width="151" height="16.4"/>
<rect class="y" y="764.2" width="103.9" height="16.4"/><rect class="g" x="103.9" y="764.2" width="152.3" height="16.4"/>
</g>

<!-- B2 -->
<g transform="translate(1928.3 0) scale(0.51133 1)">
<rect class="c" y="148.1" width="211.1" height="16.4"/><rect class="a" x="211.1" y="148.1" width="24.2" height="16.4"/>
<rect class="c" y="173.8" width="212.4" height="16.4"/><rect class="a" x="212.4" y="173.8" width="24.2" height="16.4"/>
<rect class="c" y="199.4" width="215.7" height="16.4"/><rect class="a" x="215.7" y="199.4" width="34" height="16.4"/><rect class="s" x="249.7" y="199.4" width="1.9" height="16.4"/>
<rect class="c" y="225.1" width="217" height="16.4"/><rect class="a" x="217" y="225.1" width="31.4" height="16.4"/>
<rect class="c" y="250.8" width="217" height="16.4"/><rect class="a" x="217" y="250.8" width="37.9" height="16.4"/>
<rect class="c" y="276.5" width="215.7" height="16.4"/><rect class="a" x="215.7" y="276.5" width="35.9" height="16.4"/>
<rect class="c" y="302.1" width="219" height="16.4"/><rect class="a" x="219" y="302.1" width="33.9" height="16.4"/>
<rect class="c" y="327.8" width="219" height="16.4"/><rect class="a" x="219" y="327.8" width="33.9" height="16.4"/>
<rect class="c" y="353.5" width="213.7" height="16.4"/><rect class="a" x="213.7" y="353.5" width="22.9" height="16.4"/><rect class="s" x="236.6" y="353.5" width="11.8" height="16.4"/>
<rect class="c" y="379.1" width="219" height="16.4"/><rect class="a" x="219" y="379.1" width="40.5" height="16.4"/><rect class="s" x="259.5" y="379.1" width="1.3" height="16.4"/>
<rect class="c" y="404.8" width="215.7" height="16.4"/><rect class="a" x="215.7" y="404.8" width="79.7" height="16.4"/>
<rect class="c" y="430.5" width="213.7" height="16.4"/><rect class="a" x="213.7" y="430.5" width="81.7" height="16.4"/>
<rect class="c" y="456.1" width="213.7" height="16.4"/><rect class="a" x="213.7" y="456.1" width="34.7" height="16.4"/>
<rect class="c" y="481.8" width="213.7" height="16.4"/><rect class="a" x="213.7" y="481.8" width="34.7" height="16.4"/>
<rect class="c" y="507.5" width="212.4" height="16.4"/><rect class="a" x="212.4" y="507.5" width="39.2" height="16.4"/>
<rect class="c" y="533.2" width="213.7" height="16.4"/><rect class="a" x="213.7" y="533.2" width="39.2" height="16.4"/>
<rect class="c" y="558.8" width="211.1" height="16.4"/><rect class="a" x="211.1" y="558.8" width="45.1" height="16.4"/>
<rect class="c" y="584.5" width="211.1" height="16.4"/><rect class="a" x="211.1" y="584.5" width="41.8" height="16.4"/><rect class="s" x="252.9" y="584.5" width="2" height="16.4"/>
<rect class="c" y="610.2" width="211.1" height="16.4"/><rect class="a" x="211.1" y="610.2" width="45.1" height="16.4"/>
<rect class="c" y="635.8" width="209.2" height="16.4"/><rect class="a" x="209.2" y="635.8" width="43.7" height="16.4"/>
<rect class="c" y="661.5" width="211.1" height="16.4"/><rect class="a" x="211.1" y="661.5" width="43.8" height="16.4"/><rect class="s" x="254.9" y="661.5" width="1.3" height="16.4"/>
<rect class="c" y="687.2" width="211.1" height="16.4"/><rect class="a" x="211.1" y="687.2" width="43.8" height="16.4"/>
<rect class="c" y="712.8" width="212.4" height="16.4"/><rect class="a" x="212.4" y="712.8" width="43.8" height="16.4"/>
<rect class="c" y="738.5" width="211.1" height="16.4"/><rect class="a" x="211.1" y="738.5" width="43.8" height="16.4"/>
<rect class="c" y="764.2" width="211.1" height="16.4"/><rect class="a" x="211.1" y="764.2" width="45.1" height="16.4"/>
</g>

<!-- axes -->
<g stroke="#000" fill="none" stroke-width="2">
<path d="M152.7 133.5H242M182.5 133.5V128.5M212.2 133.5V128.5M242 133.5V128.5"/>
<path d="M265 133.5H352.7M294.2 133.5V128.5M323.5 133.5V128.5M352.7 133.5V128.5"/>
<path d="M376.7 133.5H465M406.1 133.5V128.5M435.6 133.5V128.5M465 133.5V128.5"/>
<path d="M512.7 135H600.7M542 135V130M571.4 135V130M600.7 135V130"/>
<path d="M648.3 135H737.7M670.7 135V130M693 135V130M715.4 135V130M737.7 135V130"/>
<path d="M780.7 135H868M809.8 135V130M838.9 135V130M868 135V130"/>
<path d="M896.7 135H984.3M925.9 135V130M955.1 135V130M984.3 135V130"/>
<path d="M1037.3 135H1125M1059.2 135V130M1081.2 135V130M1103.1 135V130M1125 135V130"/>
<path d="M1152.3 135H1241M1181.9 135V130M1211.4 135V130M1241 135V130"/>
<path d="M1296 136.5H1383.3M1313.5 136.5V131.5M1330.9 136.5V131.5M1348.4 136.5V131.5M1365.8 136.5V131.5M1383.3 136.5V131.5"/>
<path d="M1756.7 142.5H1909M1807.5 142.5V137.5M1858.2 142.5V137.5M1909 142.5V137.5"/>
<path d="M1928.3 142.5H2081.7M1979.4 142.5V137.5M2030.6 142.5V137.5M2081.7 142.5V137.5"/>
</g>
<g stroke="#000" fill="none" stroke-width="2.6">
<path d="M152.7 128.5V783M265 128.5V783M376.7 128.5V783M512.7 130V783M648.3 130V783M780.7 130V783M896.7 130V783M1037.3 130V783M1152.3 130V783M1296 131.5V784M1756.7 137.5V793M1928.3 137.5V793"/>
</g>

<!-- Pie 1 -->
<g stroke="#fff" stroke-width="2.5" stroke-linejoin="round">
<path d="M1609.3 261L1609.3 149.3A111.7 111.7 0 1 1 1522.5 331.3Z" fill="#EBAA82"/>
<path d="M1609.3 261L1522.5 331.3A111.7 111.7 0 0 1 1574.2 155Z" fill="#8EA8D8"/>
<path d="M1609.3 261L1574.2 155A111.7 111.7 0 0 1 1609.3 149.3Z" fill="#A5CE8E"/>
</g>
<g font-size="14" fill="#111" text-anchor="middle">
<text x="1598" y="190.5">19, 5%</text>
<text x="1556" y="243.5">115,</text>
<text x="1556" y="258.5">31%</text>
<text x="1661" y="283.6">240,</text>
<text x="1661" y="298.6">64%</text>
</g>
<!-- Pie 2 -->
<g stroke="#fff" stroke-width="2.5" stroke-linejoin="round">
<path d="M1609.8 589.5L1609.8 476.5A113 113 0 0 1 1705.4 649.8Z" fill="#F4B81B"/>
<path d="M1609.8 589.5L1705.4 649.8A113 113 0 1 1 1583.4 479.6Z" fill="#6CA645"/>
<path d="M1609.8 589.5L1583.4 479.6A113 113 0 0 1 1609.8 476.5Z" fill="#7F7F7F"/>
</g>
<g font-size="14" fill="#111" text-anchor="middle">
<text x="1602.8" y="530">Chr I &amp; Chr</text>
<text x="1602.8" y="545.8">II, 14, 4%</text>
<text x="1660.3" y="554">Chr I,</text>
<text x="1660.3" y="568.5">127,</text>
<text x="1660.3" y="583">34%</text>
<text x="1563.3" y="614">Chr II,</text>
<text x="1563.3" y="628.5">233,</text>
<text x="1563.3" y="643">62%</text>
</g>

<!-- pie legends -->
<rect x="1509.3" y="395.5" width="24.7" height="13" fill="#EBAA82"/>
<rect x="1509.3" y="419" width="24.7" height="13" fill="#8EA8D8"/>
<rect x="1509.3" y="445" width="24.7" height="13" fill="#A5CE8E"/>
<g font-size="18.5" fill="#111">
<text x="1549.3" y="408.5">Core</text>
<text x="1549.3" y="432">Accessory</text>
<text x="1549.3" y="458">Strain-specific</text>
</g>
<rect x="1515" y="713.8" width="25.5" height="13.2" fill="#F4B81B"/>
<rect x="1515" y="737.5" width="25.5" height="13.2" fill="#6CA645"/>
<rect x="1515" y="762.7" width="25.5" height="13.2" fill="#7F7F7F"/>
<g font-size="18.5" fill="#111">
<text x="1555.5" y="727">Chr I (circular)</text>
<text x="1555.5" y="750.7">Chromid (linear)</text>
<text x="1555.5" y="776">Chr I &amp; Chromid</text>
</g>

<!-- panel A legends -->
<rect x="228.6" y="800" width="25" height="13.3" fill="#F4B81B"/>
<rect x="228.6" y="823.4" width="25" height="13.3" fill="#6CA645"/>
<rect x="381.4" y="800" width="25" height="13.3" fill="#EBAA82"/>
<rect x="381.4" y="823.4" width="25" height="13.3" fill="#8FAADC"/>
<rect x="381.4" y="848.3" width="25" height="13.3" fill="#A5CE8E"/>
<g font-size="18" fill="#111">
<text x="262.5" y="813.3">Chr I</text>
<text x="262.5" y="836.7">Chromid</text>
<text x="414" y="813.3">Core</text>
<text x="414" y="836.7">Accessory</text>
<text x="414" y="861.6">Strain-specific</text>
</g>
<rect x="1429.3" y="805" width="26.4" height="14" fill="#A82C58" stroke="#9C9C9C" stroke-width="1.6"/>
<rect x="1429.3" y="829" width="26.4" height="13.7" fill="#fff" stroke="#9C9C9C" stroke-width="1.6"/>
<g font-size="18" fill="#111">
<text x="1463.3" y="818.5">Presence in chromid</text>
<text x="1463.3" y="842.2">Absence</text>
</g>
</svg>
</body></html>
